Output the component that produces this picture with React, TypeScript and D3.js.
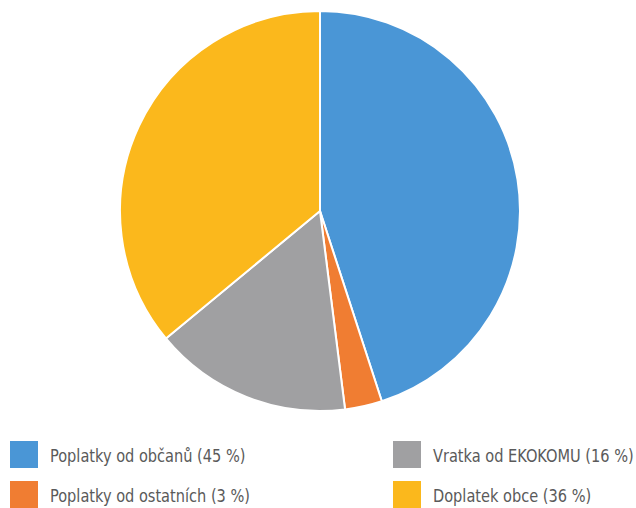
import { useEffect, useRef } from 'react'
import * as d3 from 'd3'

const labels = ['Poplatky od občanů', 'Poplatky od ostatních', 'Vratka od EKOKOMU', 'Doplatek obce']
const values = [45, 3, 16, 36]
const colors = ['#4a96d6', '#f07d32', '#a0a0a2', '#fbb81c']
// legend order: left column then right column
const legendOrder = [0, 1, 2, 3]

const App = () => {
  const svgRef = useRef<SVGSVGElement>(null)
  const width = 636
  const height = 508

  useEffect(() => {
    const svg = d3.select(svgRef.current)
    svg.selectAll('*').remove()

    const cx = 320
    const cy = 211
    const radius = 200

    const pie = d3
      .pie<number>()
      .sort(null)
      .value((d) => d)
    const arc = d3.arc<d3.PieArcDatum<number>>().innerRadius(0).outerRadius(radius)

    const g = svg.append('g').attr('transform', `translate(${cx},${cy})`)
    g.selectAll('path')
      .data(pie(values))
      .join('path')
      .attr('d', arc)
      .attr('fill', (d, i) => colors[i])
      .attr('stroke', '#ffffff')
      .attr('stroke-width', 2)
      .attr('stroke-linejoin', 'round')

    // legend
    const colX = [10, 393]
    const rowY = [441, 481]
    const legend = svg.append('g')
    legendOrder.forEach((idx, k) => {
      const col = Math.floor(k / 2)
      const row = k % 2
      const x = colX[col]
      const y = rowY[row]
      legend
        .append('rect')
        .attr('x', x)
        .attr('y', y)
        .attr('width', 28)
        .attr('height', 27)
        .attr('fill', colors[idx])
      // condensed look: narrow the text horizontally
      legend
        .append('text')
        .attr('transform', `translate(${x + 40},${y + 21}) scale(0.9,1)`)
        .style('fill', '#5a5a5a')
        .style('font-family', '"DejaVu Sans Condensed", "DejaVu Sans", sans-serif')
        .style('font-size', '18px')
        .text(`${labels[idx]} (${values[idx]} %)`)
    })
  }, [])

  return (
    <svg
      ref={svgRef}
      width={width}
      height={height}
      style={{ position: 'absolute', left: 0, top: 0, background: '#ffffff' }}
    />
  )
}

export default App
